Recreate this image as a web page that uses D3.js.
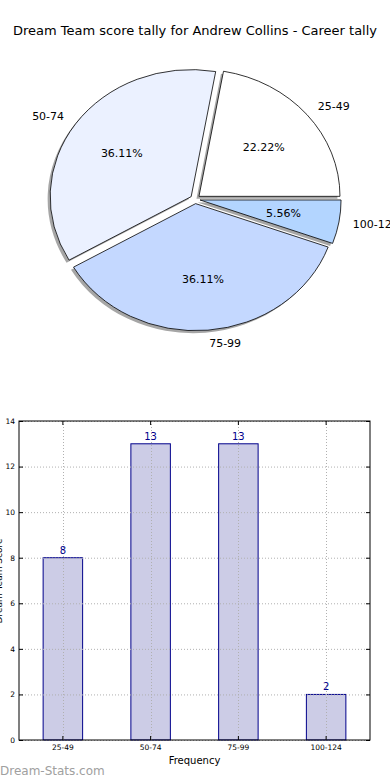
<!DOCTYPE html>
<html><head><meta charset="utf-8">
<script src="https://cdn.jsdelivr.net/npm/d3@7"></script>
<style>
body{margin:0;background:#fff;}
svg{display:block;font-family:"DejaVu Sans",sans-serif;}
</style></head>
<body>
<svg id="c" width="390" height="780"></svg>
<script>
const title = "Dream Team score tally for Andrew Collins - Career tally";
const categories = ["25-49", "50-74", "75-99", "100-124"];
const counts = [8, 13, 13, 2];
const pieColors = ["#ffffff", "#ebf1ff", "#c4d8ff", "#b3d5ff"];
const yTicks = [0, 2, 4, 6, 8, 10, 12, 14];
const xLabel = "Frequency";
const yLabel = "Dream Team Score";
const watermark = "Dream-Stats.com";

const svg = d3.select("#c");

svg.append("text").attr("x", 195).attr("y", 35).attr("text-anchor", "middle")
  .attr("font-size", 13).attr("fill", "#000").text(title);

// ---- Pie ----
const cx = 195.2, cy = 199.2, rx = 141, ry = 127, explode = 0.035;
const total = d3.sum(counts);
const pie = d3.pie().sort(null).startAngle(Math.PI / 2).endAngle(Math.PI / 2 - 2 * Math.PI);
const arcs = pie(counts);
const arcGen = d3.arc().innerRadius(0).outerRadius(1);

const pg = svg.append("g");
arcs.forEach((a, i) => {
  const mid = (a.startAngle + a.endAngle) / 2;
  const ux = Math.sin(mid), uy = -Math.cos(mid);
  const ox = cx + explode * rx * ux, oy = cy + explode * ry * uy;
  a.ox = ox; a.oy = oy; a.ux = ux; a.uy = uy;
  pg.append("path").attr("d", arcGen(a))
    .attr("transform", `translate(${ox - 2.5},${oy + 2.5}) scale(${rx},${ry})`)
    .attr("fill", "#4d4d4d").attr("fill-opacity", 0.5).attr("stroke", "none");
});
arcs.forEach((a, i) => {
  pg.append("path").attr("d", arcGen(a))
    .attr("transform", `translate(${a.ox},${a.oy}) scale(${rx},${ry})`)
    .attr("fill", pieColors[i]).attr("stroke", "#000").attr("stroke-width", 0.8)
    .attr("vector-effect", "non-scaling-stroke").attr("stroke-linejoin", "round");
});
arcs.forEach((a, i) => {
  const lx = a.ox + 1.1 * rx * a.ux, ly = a.oy + 1.1 * ry * a.uy;
  pg.append("text").attr("x", lx).attr("y", ly).attr("dy", "0.35em")
    .attr("text-anchor", a.ux > 0 ? "start" : "end")
    .attr("font-size", 11).text(categories[i]);
  const px = a.ox + 0.6 * rx * a.ux, py = a.oy + 0.6 * ry * a.uy;
  pg.append("text").attr("x", px).attr("y", py).attr("dy", "0.35em")
    .attr("text-anchor", "middle").attr("font-size", 11)
    .text((counts[i] / total * 100).toFixed(2) + "%");
});

// ---- Bar chart ----
const L = 19, R = 370, T = 421, B = 740;
const x = d3.scaleBand().domain(categories).range([L, R]).paddingInner(0.55).paddingOuter(0.275);
const y = d3.scaleLinear().domain([0, 14]).range([B, T]);
const bg = svg.append("g");

bg.selectAll("rect.bar").data(counts).join("rect").attr("class", "bar")
  .attr("x", (d, i) => x(categories[i])).attr("width", x.bandwidth())
  .attr("y", d => y(d)).attr("height", d => y(0) - y(d))
  .attr("fill", "#ccccE6").attr("stroke", "#00008b").attr("stroke-width", 1);

bg.selectAll("line.hg").data(yTicks).join("line").attr("class", "hg")
  .attr("x1", L).attr("x2", R).attr("y1", d => y(d) + 0.5).attr("y2", d => y(d) + 0.5)
  .attr("stroke", "#b0b0b0").attr("stroke-width", 1).attr("stroke-dasharray", "1,2");
bg.selectAll("line.vg").data(categories).join("line").attr("class", "vg")
  .attr("x1", d => Math.round(x(d) + x.bandwidth() / 2) + 0.5).attr("x2", d => Math.round(x(d) + x.bandwidth() / 2) + 0.5)
  .attr("y1", T).attr("y2", B)
  .attr("stroke", "#b0b0b0").attr("stroke-width", 1).attr("stroke-dasharray", "1,2");

bg.selectAll("text.val").data(counts).join("text").attr("class", "val")
  .attr("x", (d, i) => x(categories[i]) + x.bandwidth() / 2).attr("y", d => y(d) - 4)
  .attr("text-anchor", "middle").attr("font-size", 10).attr("fill", "#00008b").text(d => d);

const yAxis = d3.axisLeft(y).tickValues(yTicks).tickSize(-4).tickPadding(4);
const yAx = bg.append("g").attr("transform", `translate(${L},0)`).call(yAxis);
const yAxR = bg.append("g").attr("transform", `translate(${R},0)`).call(d3.axisRight(y).tickValues(yTicks).tickSize(-4).tickFormat(""));
const xAx = bg.append("g").attr("transform", `translate(0,${B})`).call(d3.axisBottom(x).tickSize(-4).tickPadding(5));
const xAxT = bg.append("g").attr("transform", `translate(0,${T})`).call(d3.axisTop(x).tickSize(-4).tickFormat(""));
[yAx, yAxR, xAx, xAxT].forEach(g => {
  g.select(".domain").remove();
  g.selectAll("line").attr("stroke", "#000");
  g.selectAll("text").attr("font-size", 7.5).attr("font-family", "DejaVu Sans, sans-serif").attr("fill", "#000");
});
bg.append("rect").attr("x", L).attr("y", T).attr("width", R - L).attr("height", B - T)
  .attr("fill", "none").attr("stroke", "#000").attr("stroke-width", 1);

bg.append("text").attr("x", (L + R) / 2).attr("y", 764).attr("text-anchor", "middle")
  .attr("font-size", 10).text(xLabel);
bg.append("text").attr("transform", `translate(2,581) rotate(-90)`).attr("text-anchor", "middle")
  .attr("font-size", 9).text(yLabel);

svg.append("text").attr("x", 0).attr("y", 775).attr("font-size", 12)
  .attr("fill", "#a0a0a0").text(watermark);
</script>
</body></html>
